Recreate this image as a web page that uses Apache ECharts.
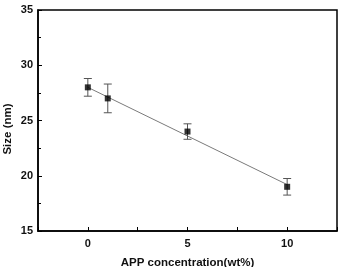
<!DOCTYPE html>
<html>
<head>
<meta charset="utf-8">
<script src="https://cdn.jsdelivr.net/npm/echarts@6/dist/echarts.min.js"></script>
<style>
html,body{margin:0;padding:0;background:#fff;}
#chart{width:341px;height:267px;}
</style>
</head>
<body>
<div id="chart"></div>
<script>
// Data
var concentrations = [0, 1, 5, 10];
var sizes = [28, 27, 24, 19];
var errors = [0.8, 1.3, 0.7, 0.75];
var fitX = [0, 10];
var fitY = [28.0, 19.2];
var xTickLabels = ['0', '5', '10'];

var pointData = concentrations.map(function (x, i) { return [x, sizes[i]]; });
var errData = concentrations.map(function (x, i) { return [x, sizes[i] - errors[i], sizes[i] + errors[i]]; });
var fitData = fitX.map(function (x, i) { return [x, fitY[i]]; });

var FONT = 'Liberation Sans, Arial, sans-serif';
var chart = echarts.init(document.getElementById('chart'));
chart.setOption({
  animation: false,
  grid: {
    left: 38, top: 10, right: 4, bottom: 36,
    outerBoundsMode: 'none', containLabel: false,
    show: true, borderColor: '#000', borderWidth: 1.5, backgroundColor: 'transparent'
  },
  xAxis: {
    type: 'value', min: -2.5, max: 12.5, interval: 2.5,
    name: 'APP concentration(wt%)', nameLocation: 'middle', nameGap: 26, nameMoveOverlap: false,
    nameTextStyle: { fontFamily: FONT, fontWeight: 'bold', fontSize: 11.5, color: '#111' },
    axisLine: { show: true, onZero: false, lineStyle: { color: '#000', width: 1.5 } },
    axisTick: { show: true, inside: true, length: 4, lineStyle: { color: '#000', width: 1 } },
    axisLabel: {
      margin: 7, fontFamily: FONT, fontWeight: 'bold', fontSize: 11, color: '#111',
      formatter: function (v) {
        var s = String(v);
        return xTickLabels.indexOf(s) >= 0 ? s : '';
      }
    },
    splitLine: { show: false }
  },
  yAxis: {
    type: 'value', min: 15, max: 35, interval: 5,
    name: 'Size (nm)', nameLocation: 'middle', nameGap: 24, nameRotate: 90, nameMoveOverlap: false,
    nameTextStyle: { fontFamily: FONT, fontWeight: 'bold', fontSize: 11.5, color: '#111', padding: [0, 17, 0, 0] },
    axisLine: { show: true, onZero: false, lineStyle: { color: '#000', width: 1.5 } },
    axisTick: { show: true, inside: true, length: 4, lineStyle: { color: '#000', width: 1 } },
    minorTick: { show: true, splitNumber: 2, length: 3, lineStyle: { color: '#000', width: 1 } },
    axisLabel: { margin: 5, fontFamily: FONT, fontWeight: 'bold', fontSize: 11, color: '#111' },
    splitLine: { show: false }
  },
  series: [
    {
      type: 'line', data: fitData, symbol: 'none', z: 2,
      lineStyle: { color: '#7a7a7a', width: 1 }
    },
    {
      type: 'custom', z: 3,
      data: errData,
      encode: { x: 0, y: [1, 2] },
      renderItem: function (params, api) {
        var x = api.value(0);
        var lo = api.coord([x, api.value(1)]);
        var hi = api.coord([x, api.value(2)]);
        var hw = 4;
        var st = { stroke: '#555', lineWidth: 1, fill: null };
        return {
          type: 'group',
          children: [
            { type: 'line', shape: { x1: lo[0], y1: lo[1], x2: hi[0], y2: hi[1] }, style: st },
            { type: 'line', shape: { x1: lo[0] - hw, y1: lo[1], x2: lo[0] + hw, y2: lo[1] }, style: st },
            { type: 'line', shape: { x1: hi[0] - hw, y1: hi[1], x2: hi[0] + hw, y2: hi[1] }, style: st }
          ]
        };
      }
    },
    {
      type: 'scatter', data: pointData, symbol: 'rect', symbolSize: 6, z: 4,
      itemStyle: { color: '#000' }
    }
  ]
});
</script>
</body>
</html>
